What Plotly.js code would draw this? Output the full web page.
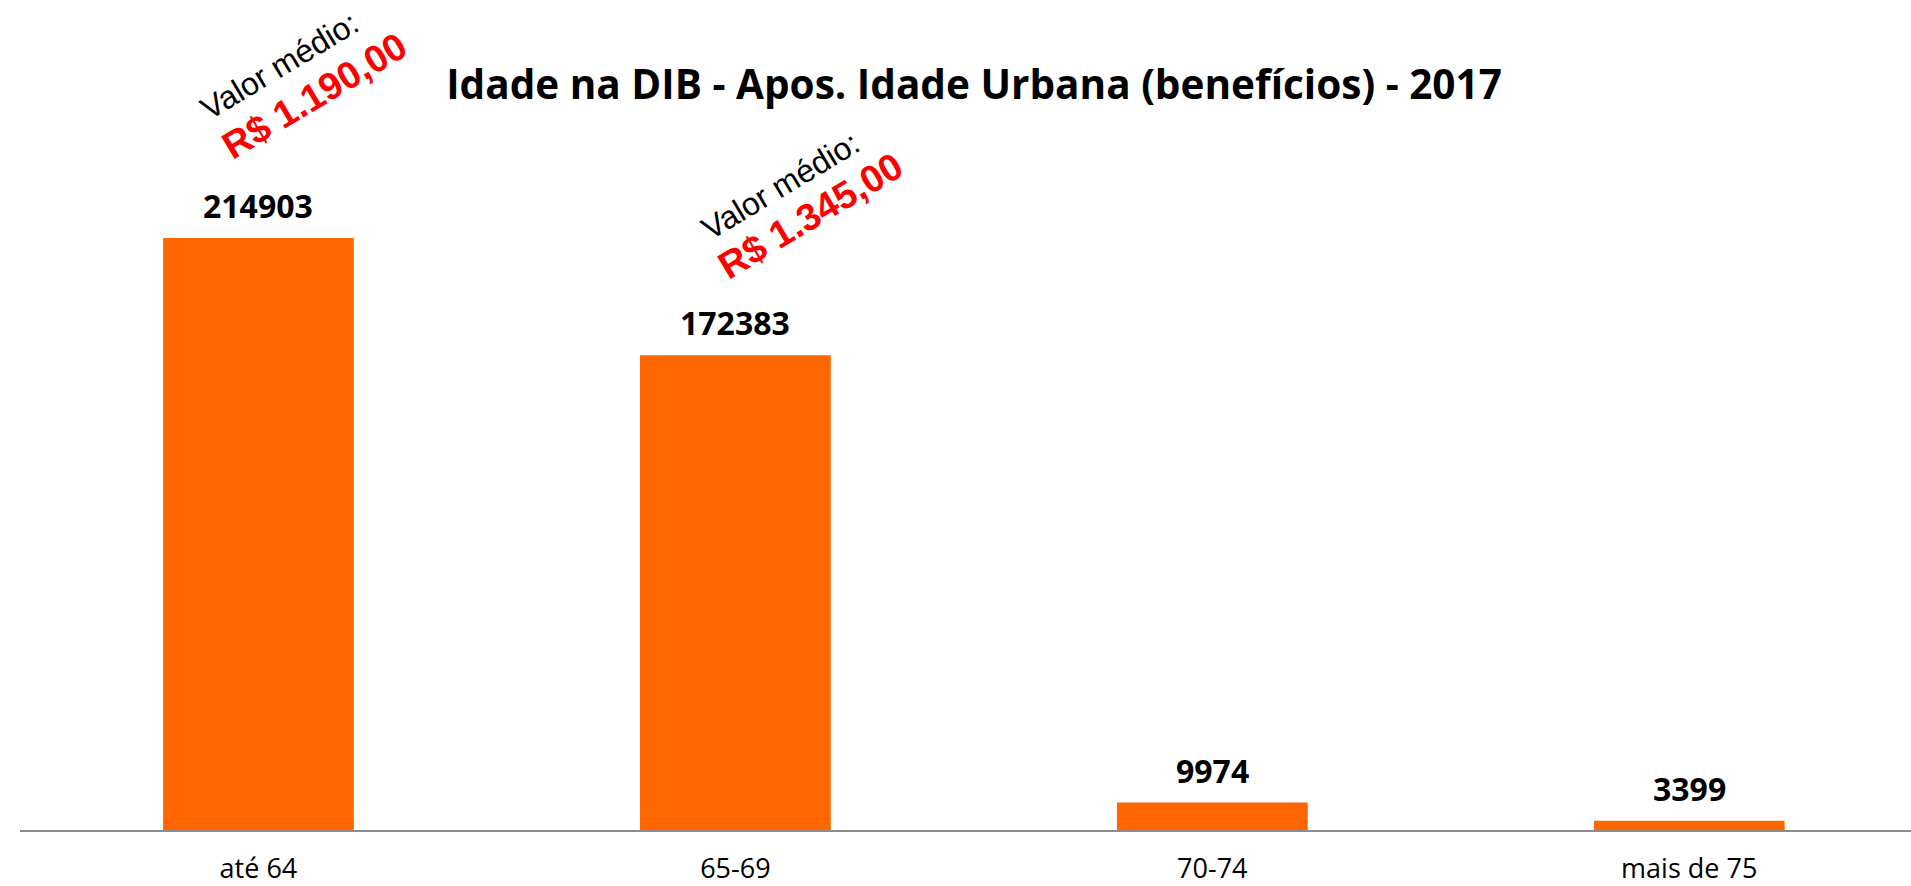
<!DOCTYPE html>
<html>
<head>
<meta charset="utf-8">
<script src="https://cdn.plot.ly/plotly-3.0.1.min.js"></script>
<style>html,body{margin:0;padding:0;background:#fff;}#chart{width:1911px;height:886px;}</style>
</head>
<body>
<div id="chart"></div>
<script>
const categories = ["até 64", "65-69", "70-74", "mais de 75"];
const beneficios = [214903, 172383, 9974, 3399];
const valorLabel = "Valor médio:";
const valorMedioText = ["R$ 1.190,00", "R$ 1.345,00"];
const titleText = "Idade na DIB - Apos. Idade Urbana (benefícios) - 2017";

const W = 1911, H = 886;
const mL = 20, mR = 0, mT = 0, mB = 56;
const pw = W - mL - mR, ph = H - mT - mB;
function px(x){ return (x - mL) / pw; }
function py(y){ return (H - mB - y) / ph; }

const barTrace = {
  type: "bar",
  x: categories,
  y: beneficios,
  marker: {color: "#FF6600"},
  hoverinfo: "none"
};

const valueAnnotations = categories.map((c, i) => ({
  x: c, y: beneficios[i], xref: "x", yref: "y",
  text: String(beneficios[i]),
  showarrow: false, yanchor: "bottom", yshift: 9,
  font: {family: "Open Sans", size: 32, color: "#000", weight: 700}
}));

const noteAnchors = [
  {vx: 279, vy: 66, rx: 314, ry: 96},
  {vx: 780, vy: 186, rx: 810, ry: 216}
];
const noteAnnotations = [];
valorMedioText.forEach((t, i) => {
  const a = noteAnchors[i];
  noteAnnotations.push({
    xref: "paper", yref: "paper", x: px(a.vx), y: py(a.vy),
    xanchor: "center", yanchor: "middle", showarrow: false, textangle: -31,
    text: valorLabel,
    font: {family: "Liberation Sans", size: 32, color: "#000"}
  });
  noteAnnotations.push({
    xref: "paper", yref: "paper", x: px(a.rx), y: py(a.ry),
    xanchor: "center", yanchor: "middle", showarrow: false, textangle: -31,
    text: t,
    font: {family: "Liberation Sans", size: 38, color: "#FF0000", weight: 700}
  });
});

const layout = {
  width: W, height: H,
  margin: {l: mL, r: mR, t: mT, b: mB, pad: 0},
  paper_bgcolor: "#fff", plot_bgcolor: "#fff",
  showlegend: false,
  bargap: 0.6,
  title: {
    text: titleText,
    font: {family: "Open Sans", size: 40.5, color: "#000", weight: 700},
    x: 974 / W, xanchor: "center", xref: "container",
    y: 1 - 85 / H, yanchor: "middle", yref: "container"
  },
  xaxis: {
    type: "category",
    range: [-0.5, 3.465],
    showline: true, linecolor: "#8C8C8C", linewidth: 2,
    showgrid: false, zeroline: false, ticks: "",
    ticklabelstandoff: 14,
    tickfont: {family: "Open Sans", size: 27, color: "#000"},
    fixedrange: true
  },
  yaxis: {
    range: [0, 301300],
    visible: false, showgrid: false, zeroline: false,
    fixedrange: true
  },
  annotations: valueAnnotations.concat(noteAnnotations)
};

Plotly.newPlot("chart", [barTrace], layout, {displayModeBar: false, staticPlot: true});
</script>
</body>
</html>
